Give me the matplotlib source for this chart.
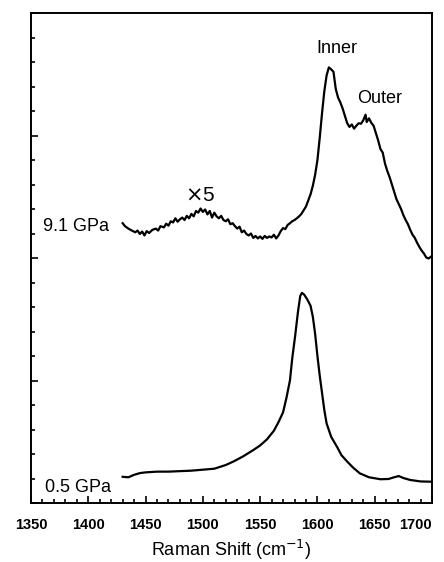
import numpy as np
import matplotlib.pyplot as plt
from matplotlib.ticker import MultipleLocator

plt.rcParams['font.family'] = ['Liberation Sans', 'DejaVu Sans']

# 9.1 GPa spectrum (x5, offset)
shift_91 = [1430, 1432, 1435, 1438, 1441, 1443, 1445, 1447, 1449, 1451, 1453, 1456, 1459,
            1461, 1463, 1466, 1468, 1470, 1472, 1474, 1476, 1478, 1480, 1482, 1484, 1486,
            1488, 1490, 1492, 1494, 1496, 1498, 1500, 1502, 1504, 1506, 1508, 1510, 1512,
            1514, 1516, 1518, 1520, 1522, 1524, 1526, 1528, 1530, 1532, 1534, 1536, 1538,
            1540, 1542, 1544, 1546, 1548, 1550, 1552, 1554, 1556, 1558, 1560, 1562, 1564,
            1566, 1568, 1570, 1572, 1574, 1576, 1578, 1580, 1582, 1584, 1586, 1588, 1590,
            1592, 1594, 1596, 1598, 1600, 1602, 1604, 1606, 1608, 1610, 1612, 1614, 1616,
            1618, 1620, 1622, 1624, 1626, 1628, 1630, 1632, 1634, 1636, 1638, 1640, 1642,
            1643, 1645, 1647, 1649, 1651, 1653, 1655, 1657, 1659, 1661, 1663, 1665, 1667,
            1669, 1671, 1673, 1675, 1677, 1679, 1681, 1683, 1685, 1687, 1689, 1691, 1693,
            1695, 1697, 1699]
int_91 = [11.42, 11.30, 11.20, 11.12, 11.05, 11.12, 10.98, 11.08, 10.92, 11.10, 11.02, 11.15, 11.20,
          11.12, 11.30, 11.25, 11.40, 11.32, 11.50, 11.45, 11.62, 11.48, 11.58, 11.65, 11.55, 11.72,
          11.62, 11.80, 11.70, 11.92, 11.85, 12.02, 11.88, 11.98, 11.78, 11.92, 11.65, 11.85, 11.70,
          11.62, 11.72, 11.55, 11.50, 11.58, 11.38, 11.42, 11.30, 11.20, 11.28, 11.05, 11.12, 10.98,
          10.92, 11.00, 10.82, 10.90, 10.80, 10.88, 10.78, 10.90, 10.82, 10.88, 10.84, 10.95, 10.80,
          10.92, 11.10, 11.22, 11.18, 11.35, 11.42, 11.50, 11.55, 11.62, 11.70, 11.80, 11.95, 12.10,
          12.35, 12.60, 12.95, 13.40, 14.00, 14.90, 15.90, 16.80, 17.45, 17.78, 17.70, 17.60, 16.90,
          16.55, 16.35, 16.10, 15.80, 15.50, 15.35, 15.45, 15.28, 15.40, 15.50, 15.48, 15.62, 15.85,
          15.55, 15.70, 15.52, 15.40, 15.10, 14.80, 14.45, 14.30, 13.85, 13.55, 13.30, 13.00, 12.70,
          12.40, 12.20, 12.00, 11.75, 11.55, 11.38, 11.15, 10.95, 10.82, 10.62, 10.45, 10.30, 10.18,
          10.02, 9.98, 10.05]

# 0.5 GPa spectrum
shift_05 = [1430, 1435, 1440, 1445, 1450, 1460, 1470, 1480, 1490, 1500, 1510, 1520, 1527,
            1535, 1544, 1550, 1556, 1562, 1566, 1570, 1573, 1576, 1578, 1580.5, 1583, 1585,
            1586.5, 1588.5, 1591, 1594, 1596, 1598, 1600, 1602, 1604, 1606, 1608, 1612, 1617,
            1621, 1626, 1631, 1637, 1645, 1655, 1662, 1667, 1671, 1675, 1681, 1690, 1699]
int_05 = [1.07, 1.05, 1.15, 1.22, 1.25, 1.28, 1.28, 1.30, 1.32, 1.36, 1.40, 1.55, 1.70,
          1.90, 2.16, 2.35, 2.60, 2.95, 3.30, 3.70, 4.30, 5.00, 5.90, 6.80, 7.80, 8.45,
          8.58, 8.50, 8.32, 8.05, 7.60, 6.90, 6.00, 5.20, 4.50, 3.80, 3.25, 2.70, 2.30,
          1.95, 1.69, 1.45, 1.21, 1.05, 0.97, 0.98, 1.05, 1.10, 1.02, 0.94, 0.88, 0.87]

xticks = [1350, 1400, 1450, 1500, 1550, 1600, 1650, 1700]

fig = plt.figure(figsize=(4.44, 5.62), dpi=100)
ax = fig.add_axes([31/444, 1 - 503/562, 401/444, 490/562])

ax.plot(shift_91, int_91, color='black', lw=1.6)
ax.plot(shift_05, int_05, color='black', lw=1.6)

ax.set_xlim(1350, 1700)
ax.set_ylim(0, 20)
ax.set_xticks(xticks, [str(t) for t in xticks], fontsize=10.5, fontweight='bold')
ax.xaxis.set_minor_locator(MultipleLocator(10))
ax.yaxis.set_major_locator(MultipleLocator(5))
ax.yaxis.set_minor_locator(MultipleLocator(1))
ax.tick_params(which='both', direction='in', top=False, right=False, width=1.2)
ax.tick_params(which='major', length=5)
ax.tick_params(which='minor', length=3)
ax.tick_params(axis='y', labelleft=False)
ax.tick_params(axis='x', pad=11)
ax.get_xticklabels()[-1].set_horizontalalignment('right')
for s in ax.spines.values():
    s.set_linewidth(1.4)

ax.set_xlabel('Raman Shift (cm$^{-1}$)', fontsize=13, labelpad=4)

ax.text(1360.5, 11.27, '9.1 GPa', fontsize=13, ha='left', va='center')
ax.text(1362, 0.65, '0.5 GPa', fontsize=13, ha='left', va='center')
ax.text(1497.5, 12.57, r'$\times$5', fontsize=15, ha='center', va='center')
ax.text(1617, 18.57, 'Inner', fontsize=13, ha='center', va='center')
ax.text(1654, 16.53, 'Outer', fontsize=13, ha='center', va='center')

fig.savefig('out.png', dpi=100)
